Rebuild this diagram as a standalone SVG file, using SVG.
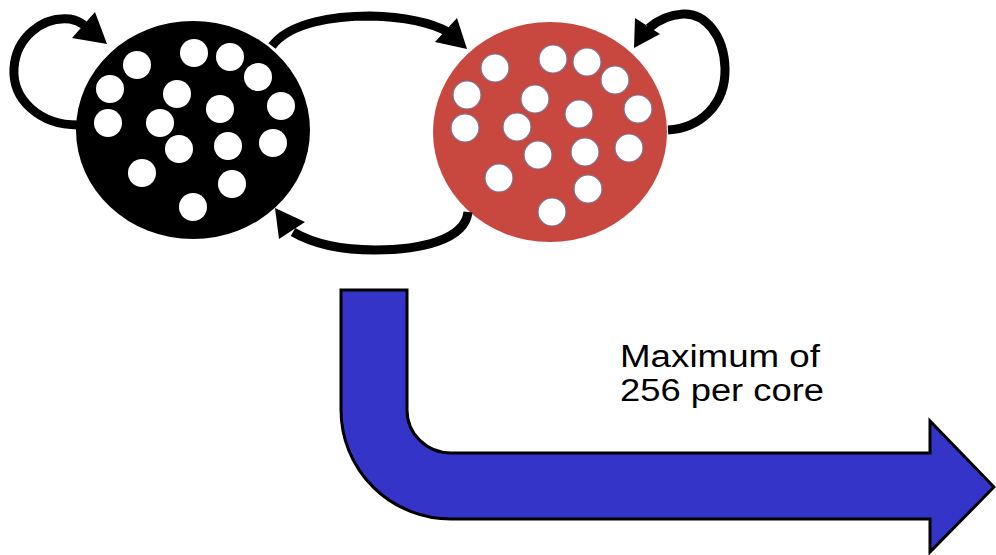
<svg xmlns="http://www.w3.org/2000/svg" width="996" height="555" viewBox="0 0 996 555">
  <style>
    .dot { fill: #ffffff; }
    .dot-red { fill: #ffffff; stroke: #7d7290; stroke-width: 1.2; }
    .link { fill: none; stroke: #000000; stroke-width: 9; stroke-linecap: butt; }
    .head { fill: #000000; }
    .label { font-family: "Liberation Sans", Arial, sans-serif; font-size: 31px; fill: #000000; }
  </style>

  <!-- black pool of threads -->
  <g id="node-black">
    <ellipse cx="193" cy="130" rx="117" ry="109" fill="#000000"/>
    <circle class="dot" cx="137" cy="65" r="14"/>
    <circle class="dot" cx="194" cy="53" r="14"/>
    <circle class="dot" cx="230" cy="57" r="14"/>
    <circle class="dot" cx="258" cy="77" r="14"/>
    <circle class="dot" cx="110" cy="89" r="14"/>
    <circle class="dot" cx="177" cy="94" r="14"/>
    <circle class="dot" cx="220" cy="109" r="14"/>
    <circle class="dot" cx="281" cy="106" r="14"/>
    <circle class="dot" cx="108" cy="123" r="14"/>
    <circle class="dot" cx="160" cy="123" r="14"/>
    <circle class="dot" cx="179" cy="149" r="14"/>
    <circle class="dot" cx="228" cy="146" r="14"/>
    <circle class="dot" cx="273" cy="143" r="14"/>
    <circle class="dot" cx="142" cy="173" r="14"/>
    <circle class="dot" cx="232" cy="184" r="14"/>
    <circle class="dot" cx="193" cy="207" r="14"/>
  </g>

  <!-- red pool of threads -->
  <g id="node-red">
    <ellipse cx="550" cy="132" rx="117" ry="110" fill="#c8473f"/>
    <circle class="dot-red" cx="495" cy="68" r="14"/>
    <circle class="dot-red" cx="553" cy="59" r="14"/>
    <circle class="dot-red" cx="587" cy="62" r="14"/>
    <circle class="dot-red" cx="615" cy="80" r="14"/>
    <circle class="dot-red" cx="467" cy="95" r="14"/>
    <circle class="dot-red" cx="535" cy="99" r="14"/>
    <circle class="dot-red" cx="579" cy="114" r="14"/>
    <circle class="dot-red" cx="638" cy="109" r="14"/>
    <circle class="dot-red" cx="465" cy="128" r="14"/>
    <circle class="dot-red" cx="517" cy="127" r="14"/>
    <circle class="dot-red" cx="538" cy="155" r="14"/>
    <circle class="dot-red" cx="585" cy="152" r="14"/>
    <circle class="dot-red" cx="629" cy="148" r="14"/>
    <circle class="dot-red" cx="499" cy="178" r="14"/>
    <circle class="dot-red" cx="588" cy="189" r="14"/>
    <circle class="dot-red" cx="552" cy="212" r="14"/>
  </g>

  <!-- curved connectors between and around the pools -->
  <g id="connectors">
    <!-- left self loop -->
    <path class="link" d="M 78,125 C 40,125 12,100 14,68 C 16,38 42,16 70,19 C 76,20 80,22 84,25"/>
    <polygon class="head" points="107,44 72,38 95,12"/>
    <!-- black to red -->
    <path class="link" d="M 272,46 C 290,22 335,16 370,16 C 405,17 430,22 448,32"/>
    <polygon class="head" points="467,49 435,42 457,18"/>
    <!-- right self loop -->
    <path class="link" d="M 668,130 C 700,128 726,105 725,68 C 724,35 705,13 683,14 C 668,15 657,21 649,28"/>
    <polygon class="head" points="634,48 635,18 660,34"/>
    <!-- red back to black -->
    <path class="link" d="M 468,212 C 465,240 420,250 375,250 C 340,250 312,243 293,232"/>
    <polygon class="head" points="275,208 279,239 305,222"/>
  </g>

  <!-- bent blue arrow -->
  <g id="flow-arrow">
    <path d="M 341,290 L 407,290 L 407,410 A 44,43 0 0 0 451,453 L 930,453 L 930,421 L 994,487 L 930,552 L 930,519 L 451,519 A 110,109 0 0 1 341,410 Z" fill="#3434c9" stroke="#000000" stroke-width="3" stroke-linejoin="miter"/>
  </g>

  <g id="caption">
    <text class="label" x="620" y="367" textLength="200" lengthAdjust="spacingAndGlyphs">Maximum of</text>
    <text class="label" x="620" y="401" textLength="204" lengthAdjust="spacingAndGlyphs">256 per core</text>
  </g>
</svg>
